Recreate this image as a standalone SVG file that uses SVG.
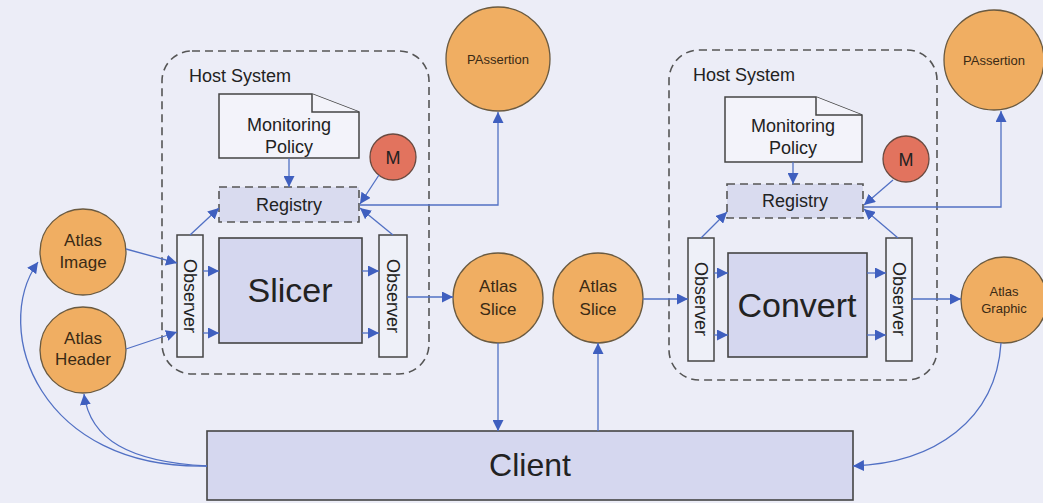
<svg xmlns="http://www.w3.org/2000/svg" width="1043" height="503" viewBox="0 0 1043 503">
<style>
text{font-family:"Liberation Sans",Arial,sans-serif;fill:#222;}
.host{fill:none;stroke:#555;stroke-width:1.6;stroke-dasharray:8,5;}
.note{fill:#f3f3fa;stroke:#444;stroke-width:1.5;}
.reg{fill:#d9dbef;stroke:#555;stroke-width:1.6;stroke-dasharray:8,5;}
.proc{fill:#d5d7ef;stroke:#444;stroke-width:1.6;}
.obs{fill:#eef0f8;stroke:#444;stroke-width:1.5;}
.data{fill:#f0ae62;stroke:#6a5a40;stroke-width:1.3;}
.mon{fill:#e2735e;stroke:#6a4a40;stroke-width:1.3;}
.lbl{font-size:18px;text-anchor:middle;}
.big{font-size:34px;text-anchor:middle;}
.dt{font-size:17px;text-anchor:middle;fill:#3a2a15;}
.sm{font-size:13px;text-anchor:middle;fill:#3a2a15;}
.hs{font-size:18px;}
.conn path,.conn line{fill:none;stroke:#5170c4;stroke-width:1.3;}
</style>
<defs>
<marker id="ah" viewBox="0 0 10 10" refX="10" refY="5" markerWidth="11" markerHeight="11" markerUnits="userSpaceOnUse" orient="auto">
<path d="M0,0 L10,5 L0,10 z" fill="#3f5fbf"/>
</marker>
</defs>
<rect width="1043" height="503" fill="#ecedf7"/>

<g id="host-left">
<rect class="host" x="162" y="51" width="267" height="323" rx="30"/>
<text class="hs" x="189" y="82">Host System</text>
</g>
<g id="host-right">
<rect class="host" x="669" y="50" width="268" height="330" rx="30"/>
<text class="hs" x="693" y="81">Host System</text>
</g>

<g id="policy-left">
<path class="note" d="M219,94 H312 L359,112 V158 H219 Z"/>
<path class="note" d="M312,94 V112 H359" fill="none"/>
<text class="lbl" x="289" y="131">Monitoring</text>
<text class="lbl" x="289" y="153">Policy</text>
</g>
<g id="policy-right">
<path class="note" d="M725,97 H816 L862,115 V162 H725 Z"/>
<path class="note" d="M816,97 V115 H862" fill="none"/>
<text class="lbl" x="793" y="132">Monitoring</text>
<text class="lbl" x="793" y="154">Policy</text>
</g>

<g id="registry-left">
<rect class="reg" x="219" y="187" width="140" height="35"/>
<text class="lbl" x="289" y="211">Registry</text>
</g>
<g id="registry-right">
<rect class="reg" x="727" y="184" width="136" height="34"/>
<text class="lbl" x="795" y="207">Registry</text>
</g>

<g id="m-left">
<circle class="mon" cx="393" cy="157" r="23"/>
<text class="lbl" x="393" y="164">M</text>
</g>
<g id="m-right">
<circle class="mon" cx="906" cy="159" r="23"/>
<text class="lbl" x="906" y="166">M</text>
</g>

<g id="slicer">
<rect class="proc" x="219" y="238" width="143" height="105"/>
<text class="big" x="290" y="302">Slicer</text>
</g>
<g id="convert">
<rect class="proc" x="728" y="253" width="139" height="104"/>
<text class="big" x="797" y="317">Convert</text>
</g>

<g id="obs-l1">
<rect class="obs" x="177" y="235" width="26" height="122"/>
<text class="lbl" transform="translate(184,296) rotate(90)">Observer</text>
</g>
<g id="obs-l2">
<rect class="obs" x="379" y="235" width="28" height="122"/>
<text class="lbl" transform="translate(387,296) rotate(90)">Observer</text>
</g>
<g id="obs-r1">
<rect class="obs" x="688" y="238" width="26" height="123"/>
<text class="lbl" transform="translate(695,299) rotate(90)">Observer</text>
</g>
<g id="obs-r2">
<rect class="obs" x="886" y="238" width="26" height="123"/>
<text class="lbl" transform="translate(893,299) rotate(90)">Observer</text>
</g>

<g id="atlas-image">
<circle class="data" cx="83" cy="252" r="43"/>
<text class="dt" x="83" y="246">Atlas</text>
<text class="dt" x="83" y="268">Image</text>
</g>
<g id="atlas-header">
<circle class="data" cx="83" cy="350" r="43"/>
<text class="dt" x="83" y="344">Atlas</text>
<text class="dt" x="83" y="365">Header</text>
</g>
<g id="atlas-slice-1">
<circle class="data" cx="498" cy="298" r="45"/>
<text class="dt" x="498" y="292">Atlas</text>
<text class="dt" x="498" y="315">Slice</text>
</g>
<g id="atlas-slice-2">
<circle class="data" cx="598" cy="298" r="45"/>
<text class="dt" x="598" y="292">Atlas</text>
<text class="dt" x="598" y="315">Slice</text>
</g>
<g id="atlas-graphic">
<circle class="data" cx="1004" cy="300" r="43"/>
<text class="sm" x="1004" y="296">Atlas</text>
<text class="sm" x="1004" y="313">Graphic</text>
</g>
<g id="passertion-left">
<circle class="data" cx="498" cy="59" r="52"/>
<text class="sm" x="498" y="64">PAssertion</text>
</g>
<g id="passertion-right">
<circle class="data" cx="994" cy="60" r="50"/>
<text class="sm" x="994" y="65">PAssertion</text>
</g>

<g id="client">
<rect class="proc" x="207" y="431" width="646" height="69"/>
<text x="530" y="476" style="font-size:32px;text-anchor:middle">Client</text>
</g>

<g id="connectors" class="conn">
<line x1="289" y1="158" x2="289" y2="187" marker-end="url(#ah)"/>
<line x1="793" y1="162" x2="793" y2="184" marker-end="url(#ah)"/>
<line x1="379" y1="175" x2="360" y2="204" marker-end="url(#ah)"/>
<line x1="893" y1="180" x2="864" y2="205" marker-end="url(#ah)"/>
<line x1="190" y1="235" x2="219" y2="208" marker-end="url(#ah)"/>
<line x1="393" y1="235" x2="360" y2="208" marker-end="url(#ah)"/>
<line x1="701" y1="238" x2="727" y2="212" marker-end="url(#ah)"/>
<line x1="898" y1="238" x2="864" y2="209" marker-end="url(#ah)"/>
<path d="M360,205 H498 V112" marker-end="url(#ah)"/>
<path d="M864,207 H1001 V111" marker-end="url(#ah)"/>
<line x1="203" y1="271" x2="219" y2="271" marker-end="url(#ah)"/>
<line x1="203" y1="333" x2="219" y2="333" marker-end="url(#ah)"/>
<line x1="362" y1="271" x2="379" y2="271" marker-end="url(#ah)"/>
<line x1="362" y1="333" x2="379" y2="333" marker-end="url(#ah)"/>
<line x1="714" y1="273" x2="728" y2="273" marker-end="url(#ah)"/>
<line x1="714" y1="335" x2="728" y2="335" marker-end="url(#ah)"/>
<line x1="867" y1="273" x2="886" y2="273" marker-end="url(#ah)"/>
<line x1="867" y1="335" x2="886" y2="335" marker-end="url(#ah)"/>
<line x1="126" y1="249" x2="177" y2="263" marker-end="url(#ah)"/>
<line x1="126" y1="349" x2="177" y2="332" marker-end="url(#ah)"/>
<line x1="407" y1="297" x2="453" y2="297" marker-end="url(#ah)"/>
<line x1="643" y1="299" x2="688" y2="299" marker-end="url(#ah)"/>
<line x1="912" y1="299" x2="961" y2="299" marker-end="url(#ah)"/>
<line x1="498" y1="343" x2="498" y2="431" marker-end="url(#ah)"/>
<line x1="598" y1="431" x2="598" y2="343" marker-end="url(#ah)"/>
<path d="M207,466 C40,470 -10,330 38,262" marker-end="url(#ah)"/>
<path d="M207,466 C130,462 90,440 84,394" marker-end="url(#ah)"/>
<path d="M1001,343 C996,420 935,463 853,466" marker-end="url(#ah)"/>
</g>
</svg>
